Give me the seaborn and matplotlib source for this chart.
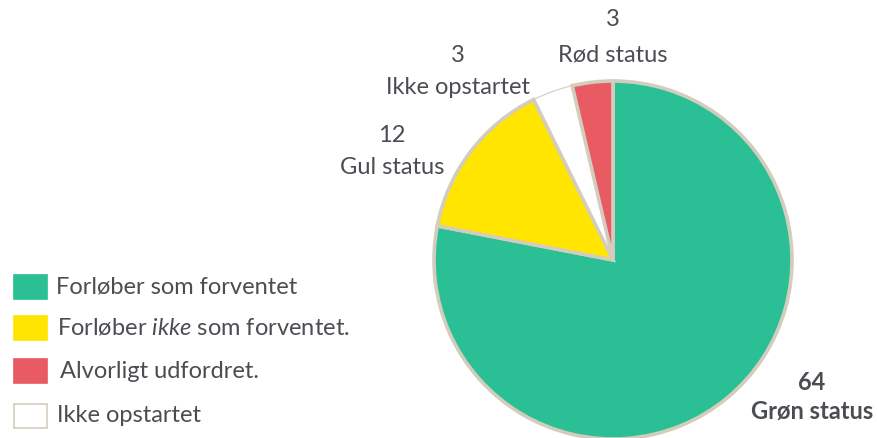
import matplotlib
matplotlib.use("Agg")
import matplotlib.pyplot as plt
import seaborn as sns
from matplotlib.patches import Rectangle

sns.set_theme(style="white")
plt.rcParams['font.family'] = ['Lato', 'DejaVu Sans']
plt.rcParams['mathtext.fontset'] = 'custom'
plt.rcParams['mathtext.it'] = 'Lato:italic'
plt.rcParams['mathtext.rm'] = 'Lato'

categories = ["Grøn status", "Gul status", "Ikke opstartet", "Rød status"]
values = [64, 12, 3, 3]
colors = ["#2bbf96", "#ffe500", "#ffffff", "#e95b63"]
legend_labels = ["Forløber som forventet", r"Forløber $\it{ikke}$ som forventet.",
                 "Alvorligt udfordret.", "Ikke opstartet"]
legend_colors = ["#2bbf96", "#ffe500", "#e95b63", "#ffffff"]

TXT = "#4a4d52"
EDGE = "#d3cdbd"
W, H = 877, 438

fig = plt.figure(figsize=(8.77, 4.38), dpi=100)
R = 179
half = 184
ax = fig.add_axes([(613 - half) / W, (H - 260 - half) / H, 2 * half / W, 2 * half / H])
wedges, _ = ax.pie(values, colors=colors, startangle=90, counterclock=False,
                   wedgeprops=dict(edgecolor=EDGE, linewidth=2.6))
wedges[2].set_linewidth(0.8)
wedges[2].set_zorder(0)
lim = half / R
ax.set_xlim(-lim, lim)
ax.set_ylim(-lim, lim)
ax.set_aspect("equal")
ax.axis("off")

fs = 17
# slice labels (pixel positions of centres)
label_pos = {"Grøn status": (812, 382, 412), "Gul status": (392, 135, 167),
             "Ikke opstartet": (458, 55, 88), "Rød status": (613, 20, 55)}
for cat, v in zip(categories, values):
    x, y1, y2 = label_pos[cat]
    weight = "bold" if cat == "Grøn status" else "normal"
    fig.text(x / W, 1 - y1 / H, str(v), ha="center", va="center", fontsize=fs,
             color=TXT, fontweight=weight)
    fig.text(x / W, 1 - y2 / H, cat, ha="center", va="center", fontsize=fs,
             color=TXT, fontweight=weight)

# legend
rows_y = [287, 328, 371, 416]
text_x = [56, 57, 60, 57]
for lab, col, y, tx in zip(legend_labels, legend_colors, rows_y, text_x):
    r = Rectangle((14 / W, 1 - (y + 12) / H), 33 / W, 24 / H, transform=fig.transFigure,
                  facecolor=col, edgecolor=EDGE if col == "#ffffff" else col, linewidth=1.2)
    fig.add_artist(r)
    fig.text(tx / W, 1 - y / H, lab, ha="left", va="center", fontsize=fs, color=TXT)

fig.savefig("out.png", dpi=100)
